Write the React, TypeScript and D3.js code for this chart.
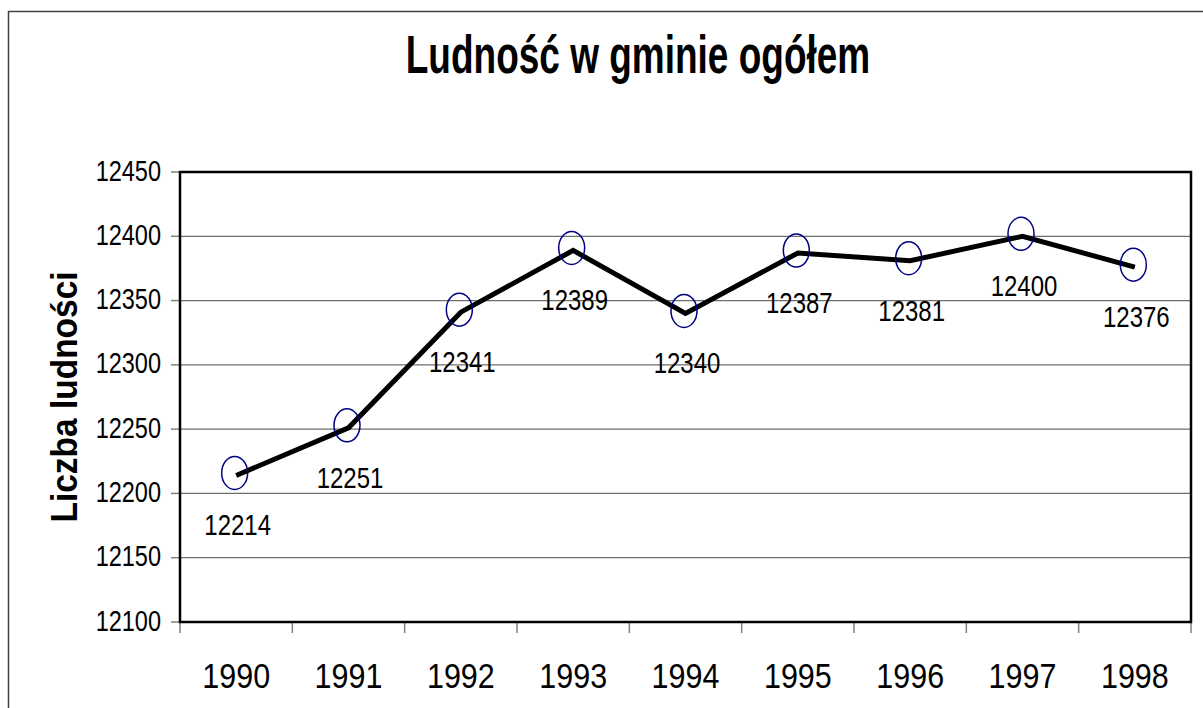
import React, { useEffect, useRef } from 'react';
import * as d3 from 'd3';

const years = ['1990', '1991', '1992', '1993', '1994', '1995', '1996', '1997', '1998'];
const population = [12214, 12251, 12341, 12389, 12340, 12387, 12381, 12400, 12376];
const yTicks = [12100, 12150, 12200, 12250, 12300, 12350, 12400, 12450];
const chartTitle = 'Ludność w gminie ogółem';
const yTitle = 'Liczba ludności';

const FONT = '"Liberation Sans", Arial, sans-serif';

const App = () => {
    const svgRef = useRef<SVGSVGElement>(null);

    useEffect(() => {
        const svg = d3.select(svgRef.current);
        svg.selectAll('*').remove();

        const width = 1203;
        const height = 708;
        const plot = { left: 180, top: 172, right: 1191, bottom: 622 };

        const x = d3.scaleBand<string>()
            .domain(years)
            .range([plot.left, plot.right])
            .padding(0);

        const y = d3.scaleLinear()
            .domain([12100, 12450])
            .range([plot.bottom, plot.top]);

        const data = years.map((yr, i) => ({ year: yr, value: population[i] }));
        const cx = (d: { year: string }) => (x(d.year) as number) + x.bandwidth() / 2;

        // outer chart border (runs off the right/bottom edge)
        svg.append('rect')
            .attr('x', 8.5).attr('y', 11.5)
            .attr('width', width + 20).attr('height', height + 20)
            .attr('fill', 'white')
            .attr('stroke', '#404040')
            .attr('stroke-width', 1.5);

        // title
        svg.append('g')
            .attr('transform', 'translate(638,73) scale(1,1.45)')
            .append('text')
            .attr('text-anchor', 'middle')
            .attr('font-family', FONT)
            .attr('font-weight', 'bold')
            .attr('font-size', 37)
            .text(chartTitle);

        // gridlines
        svg.append('g')
            .selectAll('line')
            .data(yTicks.slice(1, -1))
            .join('line')
            .attr('x1', plot.left).attr('x2', plot.right)
            .attr('y1', d => y(d)).attr('y2', d => y(d))
            .attr('stroke', '#6e6e6e')
            .attr('stroke-width', 1.2);

        // y ticks + labels
        const yt = svg.append('g');
        yt.selectAll('line')
            .data(yTicks)
            .join('line')
            .attr('x1', plot.left - 9).attr('x2', plot.left)
            .attr('y1', d => y(d)).attr('y2', d => y(d))
            .attr('stroke', '#808080')
            .attr('stroke-width', 1.5);
        yt.selectAll('g')
            .data(yTicks)
            .join('g')
            .attr('transform', d => `translate(161,${y(d) + 8.5}) scale(1,1.25)`)
            .append('text')
            .attr('text-anchor', 'end')
            .attr('font-family', FONT)
            .attr('font-size', 23.5)
            .text(d => d);

        // x ticks + labels
        const xt = svg.append('g');
        const bounds = years.map(yr => x(yr) as number).concat([plot.right]);
        xt.selectAll('line')
            .data(bounds)
            .join('line')
            .attr('x1', d => d).attr('x2', d => d)
            .attr('y1', plot.bottom).attr('y2', plot.bottom + 11)
            .attr('stroke', '#808080')
            .attr('stroke-width', 1.5);
        xt.selectAll('g')
            .data(years)
            .join('g')
            .attr('transform', d => `translate(${(x(d) as number) + x.bandwidth() / 2},688) scale(1,1.15)`)
            .append('text')
            .attr('text-anchor', 'middle')
            .attr('font-family', FONT)
            .attr('font-size', 30.5)
            .text(d => d);

        // y axis title
        svg.append('g')
            .attr('transform', 'translate(77,397) rotate(-90) scale(1,1.12)')
            .append('text')
            .attr('text-anchor', 'middle')
            .attr('font-family', FONT)
            .attr('font-weight', 'bold')
            .attr('font-size', 33.5)
            .text(yTitle);

        // plot frame
        svg.append('rect')
            .attr('x', plot.left).attr('y', plot.top)
            .attr('width', plot.right - plot.left)
            .attr('height', plot.bottom - plot.top)
            .attr('fill', 'none')
            .attr('stroke', 'black')
            .attr('stroke-width', 2.5);

        // series line
        const line = d3.line<{ year: string; value: number }>()
            .x(d => cx(d))
            .y(d => y(d.value));

        svg.append('path')
            .datum(data)
            .attr('d', line)
            .attr('fill', 'none')
            .attr('stroke', 'black')
            .attr('stroke-width', 5)
            .attr('stroke-linejoin', 'miter');

        // markers
        svg.append('g')
            .selectAll('ellipse')
            .data(data)
            .join('ellipse')
            .attr('cx', d => cx(d) - 1.5)
            .attr('cy', d => y(d.value) - 2.5)
            .attr('rx', 13)
            .attr('ry', 16.5)
            .attr('fill', 'none')
            .attr('stroke', '#000080')
            .attr('stroke-width', 1.5);

        // data labels
        svg.append('g')
            .selectAll('g')
            .data(data)
            .join('g')
            .attr('transform', d => `translate(${cx(d) + 1.5},${y(d.value) + 60}) scale(1,1.2)`)
            .append('text')
            .attr('text-anchor', 'middle')
            .attr('font-family', FONT)
            .attr('font-size', 24)
            .text(d => d.value);
    }, []);

    return (
        <svg ref={svgRef} width={1203} height={708}
            style={{ position: 'absolute', left: 0, top: 0, background: 'white' }} />
    );
};

export default App;
